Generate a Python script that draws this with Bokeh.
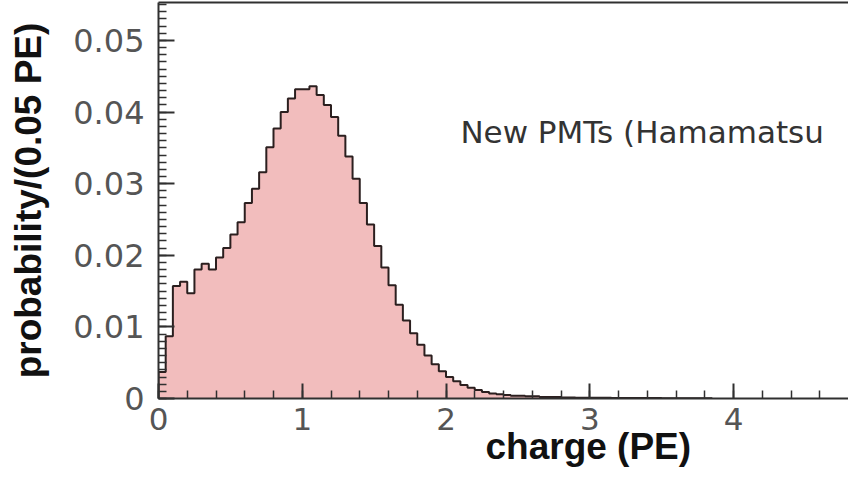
import numpy as np
from bokeh.plotting import figure
from bokeh.models import LinearAxis, FixedTicker, Label, Title
from bokeh.embed import file_html
from bokeh.resources import INLINE

# ---- data: probability per 0.05 PE bin, bins start at 0 ----
bin_width = 0.05
probability = [
    0.0037, 0.0087, 0.0157, 0.0163, 0.0147, 0.0180, 0.0188, 0.0180, 0.0197, 0.0210,
    0.0229, 0.0246, 0.0273, 0.0293, 0.0316, 0.0351, 0.0377, 0.0400, 0.0419, 0.0432,
    0.0432, 0.0436, 0.0424, 0.0410, 0.0393, 0.0367, 0.0338, 0.0307, 0.0273, 0.0243,
    0.0213, 0.0183, 0.0158, 0.0131, 0.0109, 0.0091, 0.0075, 0.0060, 0.0048, 0.0038,
    0.0030, 0.0024, 0.0019, 0.0015, 0.0012, 0.0009, 0.0007, 0.0006, 0.0005, 0.0004,
    0.0004, 0.0003, 0.0003, 0.0002, 0.0002, 0.0002, 0.00015, 0.00015, 0.00012, 0.00012,
    0.0001, 0.0001, 0.0001, 0.00008, 0.00008, 0.00008, 0.00007, 0.00007, 0.00006, 0.00006,
    0.00005, 0.00005, 0.00005, 0.00004, 0.00004, 0.00004, 0.00003,
]
x_ticks = [0, 1, 2, 3, 4]
y_ticks = [0, 0.01, 0.02, 0.03, 0.04, 0.05]
y_tick_labels = ["0", "0.01", "0.02", "0.03", "0.04", "0.05"]
x_title = "charge (PE)"
y_title = "probability/(0.05 PE)"
annotation = "New PMTs (Hamamatsu"

n = len(probability)
edges = np.arange(n + 1) * bin_width
sx = np.concatenate([[0.0], edges])
sy = np.concatenate([[0.0], probability, [0.0]])

p = figure(width=848, height=494, x_range=(0, 4.8), y_range=(0, 0.0553),
           output_backend="svg", toolbar_location=None,
           x_axis_location=None, y_axis_location=None,
           min_border_left=158, min_border_right=0, min_border_top=2, min_border_bottom=96)
p.outline_line_color = None
p.grid.visible = False
p.background_fill_color = "white"

p.varea_step(x=sx, y1=np.zeros_like(sy), y2=sy, step_mode="after", fill_color="#f2bdbd")
p.step(x=sx, y=sy, mode="after", line_color="#2b1f1f", line_width=2)

axis_col = "#303030"
lab_col = "#555555"
tick_font = "DejaVu Sans"

xa = LinearAxis(ticker=FixedTicker(ticks=x_ticks, minor_ticks=list(np.arange(0, 4.81, 0.2))))
xa.axis_line_color = axis_col
xa.axis_line_width = 2
xa.major_tick_in = 15
xa.major_tick_out = 0
xa.minor_tick_in = 8
xa.minor_tick_out = 0
xa.major_tick_line_color = axis_col
xa.minor_tick_line_color = axis_col
xa.major_tick_line_width = 2
xa.minor_tick_line_width = 1.5
xa.major_label_text_font = tick_font
xa.major_label_text_font_size = "31px"
xa.major_label_text_color = lab_col
xa.major_label_standoff = 9
p.add_layout(xa, "below")

ya = LinearAxis(ticker=FixedTicker(ticks=y_ticks, minor_ticks=list(np.arange(0, 0.0555, 0.001))))
ya.major_label_overrides = {t: s for t, s in zip(y_ticks, y_tick_labels)}
ya.axis_line_color = axis_col
ya.axis_line_width = 2
ya.major_tick_in = 16
ya.major_tick_out = 0
ya.minor_tick_in = 8
ya.minor_tick_out = 0
ya.major_tick_line_color = axis_col
ya.minor_tick_line_color = axis_col
ya.major_tick_line_width = 2
ya.minor_tick_line_width = 1.5
ya.major_label_text_font = tick_font
ya.major_label_text_font_size = "32px"
ya.major_label_text_color = lab_col
ya.major_label_standoff = 14
ya.axis_label = y_title
ya.axis_label_text_font = "Liberation Sans"
ya.axis_label_text_font_style = "bold"
ya.axis_label_text_font_size = "37px"
ya.axis_label_text_color = "#111111"
ya.axis_label_standoff = 21
p.add_layout(ya, "left")

ta = LinearAxis(ticker=FixedTicker(ticks=[]))
ta.axis_line_color = axis_col
ta.axis_line_width = 2
ta.major_label_text_font_size = "0px"
ta.major_tick_out = 0
ta.major_tick_in = 0
ta.major_label_standoff = 0
p.add_layout(ta, "above")

p.add_layout(Title(text=x_title, text_font="Liberation Sans", text_font_style="bold",
                   text_font_size="37px", text_color="#111111", align="left",
                   offset=327, standoff=-17), "below")

p.add_layout(Label(x=2.1, y=0.0372, text=annotation, text_font="DejaVu Sans",
                   text_font_size="31px", text_color="#333333",
                   text_align="left", text_baseline="middle"))

open("out.html", "w").write(file_html(p, INLINE))
